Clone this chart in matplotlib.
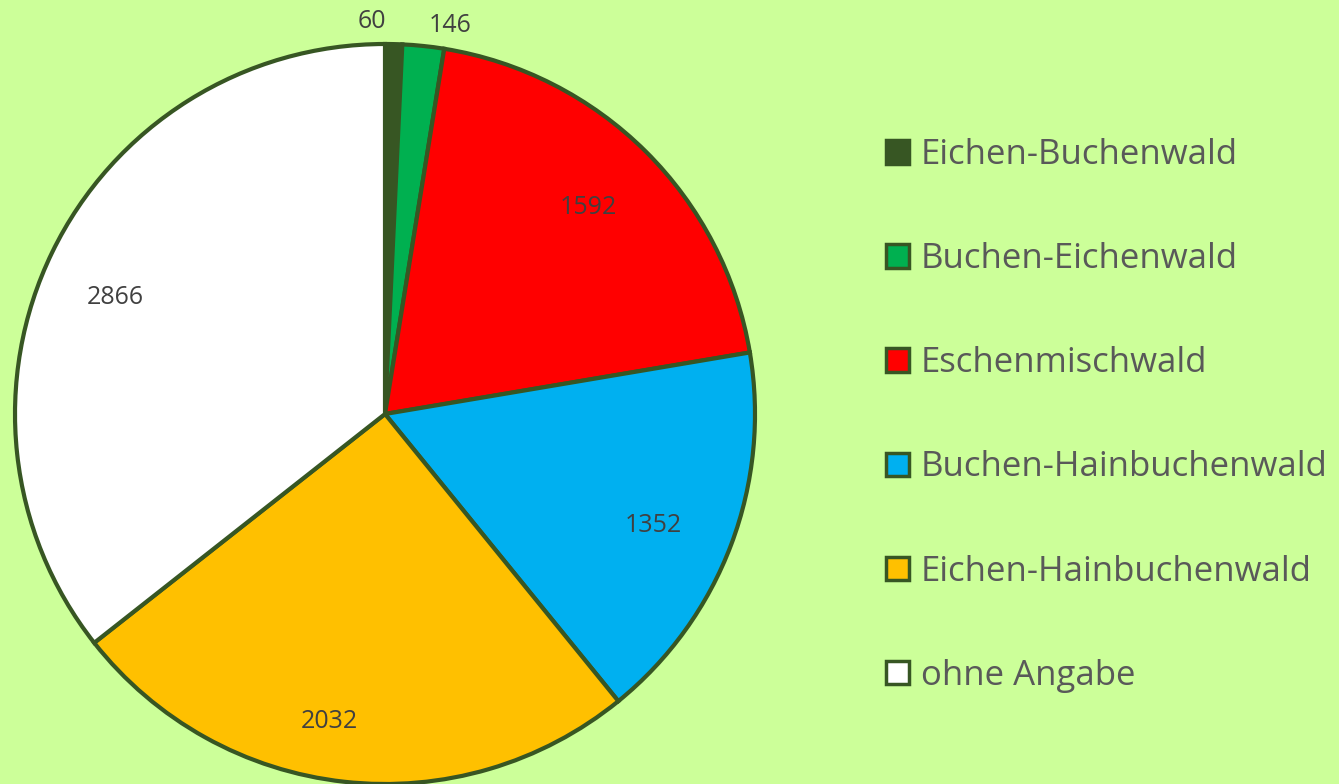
import matplotlib
matplotlib.use("Agg")
import matplotlib.pyplot as plt
from matplotlib.patches import Patch

categories = ["Eichen-Buchenwald", "Buchen-Eichenwald", "Eschenmischwald",
              "Buchen-Hainbuchenwald", "Eichen-Hainbuchenwald", "ohne Angabe"]
values = [60, 146, 1592, 1352, 2032, 2866]
colors = ["#375623", "#00B050", "#FF0000", "#00B0F0", "#FFC000", "#FFFFFF"]

BG = "#CCFF99"
EDGE = "#375623"
TXT = "#595959"
LBL = "#404040"
FONT = ["Open Sans", "DejaVu Sans"]

fig = plt.figure(figsize=(13.39, 7.84), dpi=100, facecolor=BG)
ax = fig.add_axes([15/1339, 0, 740/1339, 740/784])
ax.set_facecolor(BG)

wedges, texts = ax.pie(values, colors=colors, startangle=90, counterclock=False,
                       wedgeprops=dict(edgecolor=EDGE, linewidth=3),
                       labels=[str(v) for v in values], labeldistance=0.8,
                       textprops=dict(color=LBL, fontsize=18, family=FONT))
for t in texts:
    t.set_ha("center"); t.set_va("center")
# label placement adjustments (Excel-like best fit)
label_pos = [(-0.035, 1.06), (0.175, 1.05), (0.551, 0.557),
             (0.724, -0.300), (-0.151, -0.832), (-0.730, 0.314)]
for t, p in zip(texts, label_pos):
    t.set_position(p)
ax.set_xlim(-1, 1); ax.set_ylim(-1, 1)
ax.set_aspect("equal")
ax.axis("off")

handles = [Patch(facecolor=c, edgecolor=EDGE, linewidth=2.5) for c in colors]
leg = fig.legend(handles, categories, loc="upper left", bbox_to_anchor=(886/1339, 1 - 138/784),
                 frameon=False, prop=dict(family=FONT, size=25), labelcolor=TXT,
                 handlelength=0.66, handleheight=0.66, handletextpad=0.35,
                 labelspacing=2.02, borderaxespad=0, borderpad=0)

fig.savefig("out.png", dpi=100, facecolor=BG)
